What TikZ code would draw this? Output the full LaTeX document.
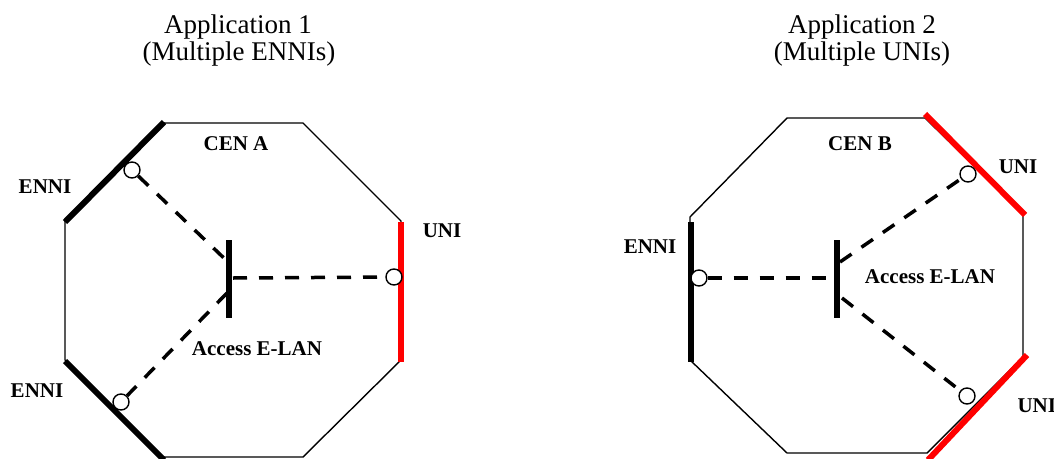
\documentclass[tikz,border=0pt]{standalone}
\usepackage{fontspec}
\setmainfont{Liberation Serif}
\begin{document}
\begin{tikzpicture}[x=1pt,y=-1pt,
  oct/.style={draw=black,line width=1.4pt,line join=miter},
  ennis/.style={draw=black,line width=6pt},
  unis/.style={draw=red,line width=6pt},
  barnode/.style={rectangle,fill=black,inner sep=0pt,minimum width=6.5pt,minimum height=78pt},
  link/.style={draw=black,line width=3.5pt,dash pattern=on 14pt off 12pt},
  port/.style={circle,draw=black,fill=white,line width=1.4pt,inner sep=0pt,minimum size=16pt},
  title/.style={font=\fontsize{27}{27}\selectfont,anchor=base},
  lbl/.style={font=\fontsize{21}{21}\selectfont\bfseries,anchor=base}]
\useasboundingbox (0,0) rectangle (1054,458);
% ---------------- Application 1 ----------------
\node[title] (t1a) at (238,33) {Application 1};
\node[title] (t1b) at (239,60) {(Multiple ENNIs)};
\draw[oct] (163,123) -- (303,123) -- (401,221) -- (401,360) -- (303,457) -- (163,457) -- (65,360) -- (65,220) -- cycle;
\draw[ennis] (65,222) -- (164,122);
\draw[ennis] (65,361) -- (164,460);
\draw[unis] (401,222) -- (401,362);
\node[barnode] (barA) at (229,279) {};
\coordinate (a1) at (227,261);
\coordinate (a2) at (233,278);
\coordinate (a3) at (227,293);
\node[port] (pA1) at (132,170) {};
\node[port] (pA2) at (121,402) {};
\node[port] (pA3) at (394,277) {};
\draw[link] (pA1) -- (a1);
\draw[link] (a2) -- (pA3);
\draw[link] (a3) -- (pA2);
\node[lbl] (cenA) at (236,150) {CEN A};
\node[lbl] (eA1) at (45,193) {ENNI};
\node[lbl] (eA2) at (37,397) {ENNI};
\node[lbl] (uA) at (442,237) {UNI};
\node[lbl] (elA) at (257,355) {Access E-LAN};
% ---------------- Application 2 ----------------
\node[title] (t2a) at (862,33) {Application 2};
\node[title] (t2b) at (862,60) {(Multiple UNIs)};
\draw[oct] (787,118) -- (925,118) -- (1023,214) -- (1023,357) -- (927,453) -- (787,453) -- (690,360) -- (690,217) -- cycle;
\draw[unis] (925,114) -- (1025,215);
\draw[unis] (1027,355) -- (928,460);
\draw[ennis] (691,222) -- (691,362);
\node[barnode] (barB) at (837,279) {};
\coordinate (b1) at (834,278);
\coordinate (b2) at (840,262);
\coordinate (b3) at (842,298);
\node[port] (pB1) at (699,278) {};
\node[port] (pB2) at (968,174) {};
\node[port] (pB3) at (967,396) {};
\draw[link] (pB1) -- (b1);
\draw[link] (b2) -- (pB2);
\draw[link] (b3) -- (pB3);
\node[lbl] (cenB) at (860,150) {CEN B};
\node[lbl] (uB1) at (1018,173) {UNI};
\node[lbl] (eB) at (650,253) {ENNI};
\node[lbl] (elB) at (930,283) {Access E-LAN};
\node[lbl,anchor=base west] (uB2) at (1014,412) {UNI};
\end{tikzpicture}
\end{document}
